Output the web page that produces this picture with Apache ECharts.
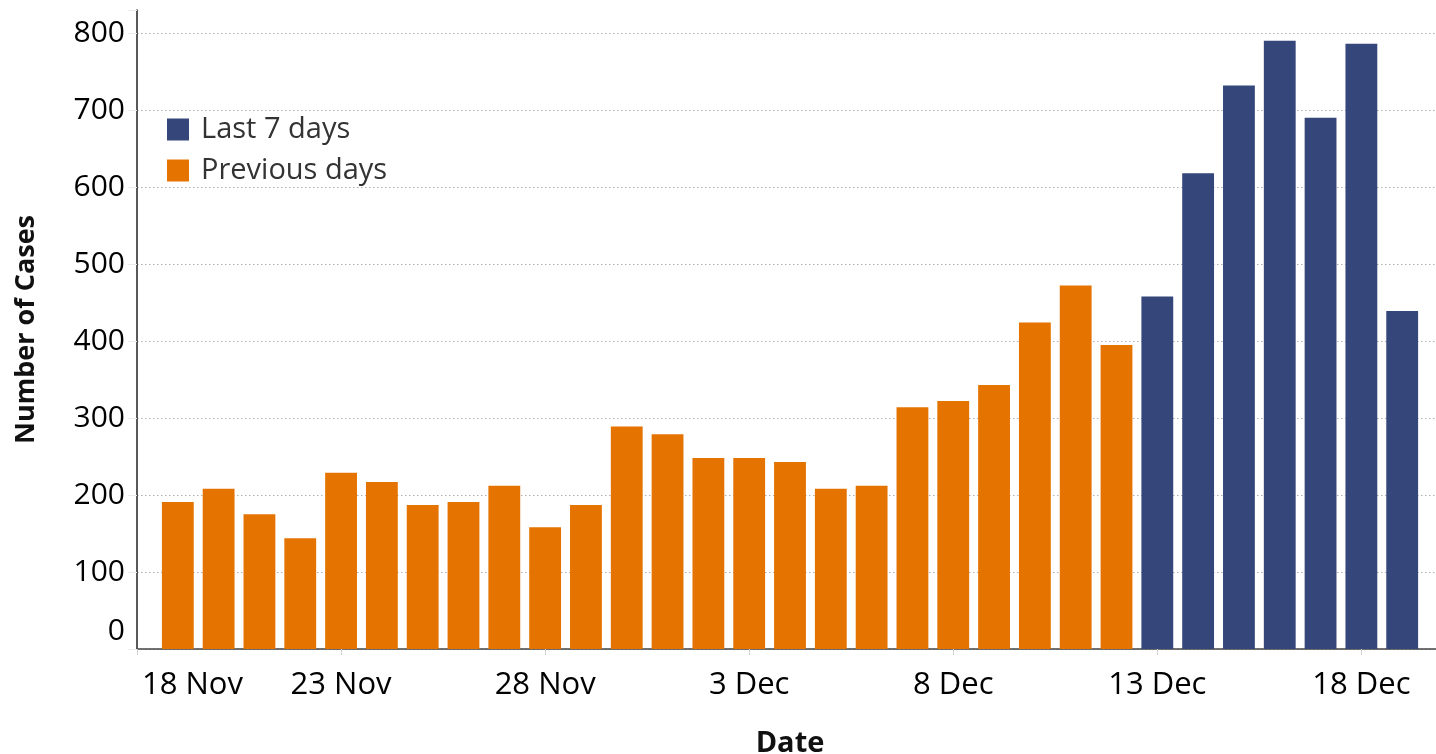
<!DOCTYPE html>
<html>
<head>
<meta charset="utf-8">
<title>Number of Cases</title>
<script src="https://cdn.jsdelivr.net/npm/echarts@6.0.0/dist/echarts.min.js"></script>
<style>
    html, body { margin: 0; padding: 0; background: #fff; }
    #casesChart { width: 1436px; height: 754px; }
</style>
</head>
<body>
<div id="casesChart"></div>
<script>
// 日期（18 Nov 到 20 Dec，轴两端各留一天）
var dates = [
    '18 Nov', '19 Nov', '20 Nov', '21 Nov', '22 Nov', '23 Nov', '24 Nov', '25 Nov',
    '26 Nov', '27 Nov', '28 Nov', '29 Nov', '30 Nov', '1 Dec', '2 Dec', '3 Dec',
    '4 Dec', '5 Dec', '6 Dec', '7 Dec', '8 Dec', '9 Dec', '10 Dec', '11 Dec',
    '12 Dec', '13 Dec', '14 Dec', '15 Dec', '16 Dec', '17 Dec', '18 Dec', '19 Dec', '20 Dec'
];
// Previous days: 19 Nov - 12 Dec
var previousDays = [
    null, 191, 208, 175, 144, 229, 217, 187,
    191, 212, 158, 187, 289, 279, 248, 248,
    243, 208, 212, 314, 322, 343, 424, 472,
    395, null, null, null, null, null, null, null, null
];
// Last 7 days: 13 Dec - 19 Dec
var last7Days = [
    null, null, null, null, null, null, null, null,
    null, null, null, null, null, null, null, null,
    null, null, null, null, null, null, null, null,
    null, 458, 618, 732, 790, 690, 786, 439, null
];
var yTicks = [0, 100, 200, 300, 400, 500, 600, 700, 800];

var orange = '#E57300';
var navy = '#35467A';
var fontFamily = '"Open Sans", "Noto Sans", sans-serif';

var casesChart = echarts.init(document.getElementById('casesChart'));
casesChart.setOption({
    animation: false,
    textStyle: { fontFamily: fontFamily },
    // 右侧 20 Dec 落在画面外
    grid: { left: 137, right: -7, top: 10, bottom: 105, containLabel: false, outerBoundsMode: 'none' },
    legend: {
        orient: 'vertical',
        left: 162,
        top: 110,
        itemWidth: 22,
        itemHeight: 22,
        itemGap: 12,
        icon: 'rect',
        data: ['Last 7 days', 'Previous days'],
        textStyle: { fontSize: 29, color: '#333', padding: [0, 0, 0, 7] }
    },
    xAxis: {
        type: 'category',
        data: dates,
        boundaryGap: false,
        name: 'Date',
        nameLocation: 'middle',
        nameGap: 80,
        nameTextStyle: { fontSize: 29, fontWeight: 'bold', color: '#111' },
        axisLine: { lineStyle: { color: '#444', width: 1.5 } },
        axisTick: { interval: 4, length: 6, lineStyle: { color: '#d0d0d0' } },
        axisLabel: {
            interval: 4,
            margin: 21,
            fontSize: 31,
            color: '#000',
            alignMinLabel: 'left',
            formatter: function (val, idx) {
                return idx === 0 ? '{first|' + val + '}' : val;
            },
            rich: { first: { fontSize: 31, color: '#000', padding: [0, 0, 0, 5] } }
        },
        splitLine: { show: false }
    },
    yAxis: {
        type: 'value',
        min: 0,
        max: 830,
        interval: 100,
        name: 'Number of Cases',
        nameLocation: 'middle',
        nameGap: 97,
        nameTextStyle: { fontSize: 27, fontWeight: 'bold', color: '#111' },
        axisLine: { show: true, lineStyle: { color: '#222', width: 1.5 } },
        axisTick: { show: true, length: 9, lineStyle: { color: '#ececec' } },
        axisLabel: {
            margin: 12,
            fontSize: 30,
            color: '#000',
            formatter: function (v) {
                if (yTicks.indexOf(v) < 0) return '';
                return v === 0 ? '{zero|0}' : String(v);
            },
            rich: { zero: { fontSize: 30, color: '#000', padding: [0, 0, 36, 0] } }
        },
        splitLine: {
            showMaxLine: false,
            lineStyle: { color: '#b0b0b0', type: [1.5, 2.5], width: 1 }
        }
    },
    series: [
        {
            name: 'Last 7 days',
            type: 'bar',
            data: last7Days,
            barWidth: '78%',
            barGap: '-100%',
            itemStyle: { color: navy }
        },
        {
            name: 'Previous days',
            type: 'bar',
            data: previousDays,
            barWidth: '78%',
            barGap: '-100%',
            itemStyle: { color: orange }
        }
    ]
});
</script>
</body>
</html>
